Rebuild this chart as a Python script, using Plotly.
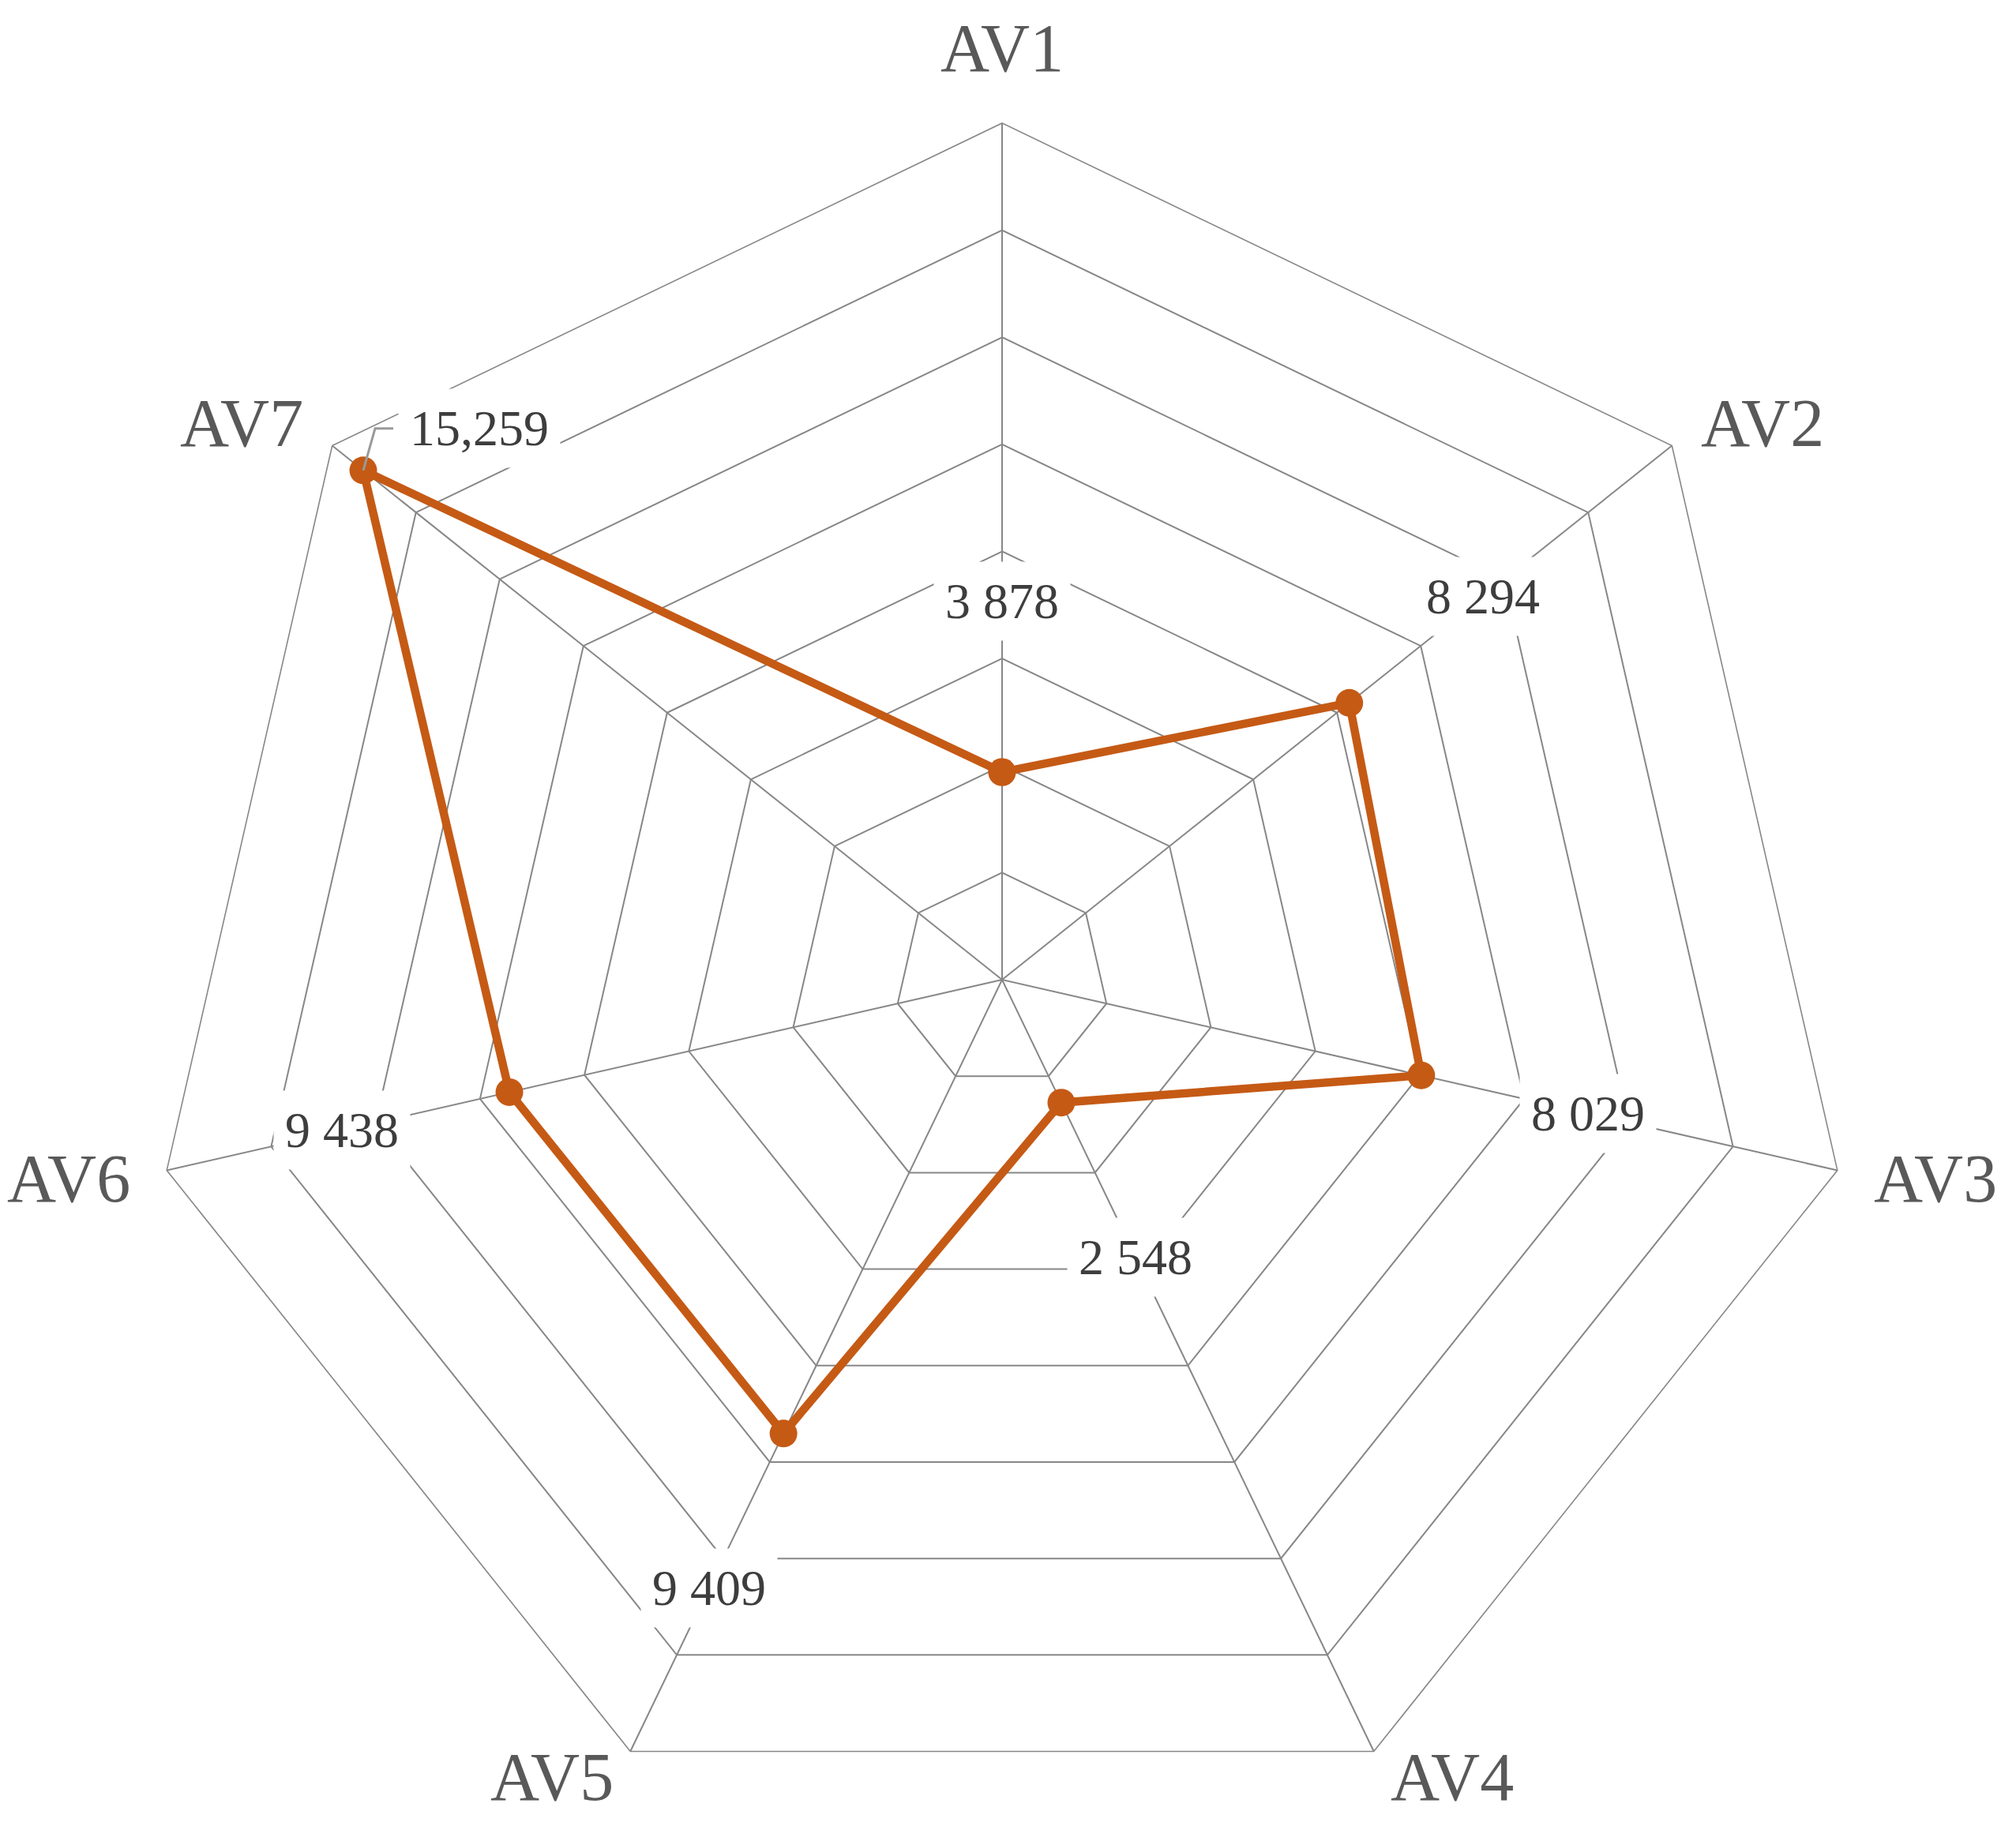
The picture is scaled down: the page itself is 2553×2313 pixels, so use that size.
import math
import plotly.graph_objects as go

# ---------------- data ----------------
categories = ["AV1", "AV2", "AV3", "AV4", "AV5", "AV6", "AV7"]
values = [3878, 8294, 8029, 2548, 9409, 9438, 15259]
value_labels = ["3 878", "8 294", "8 029", "2 548", "9 409", "9 438", "15,259"]
radial_max = 16000
radial_step = 2000

# ---------------- style / layout constants ----------------
FONT = "Liberation Serif"
LINE_COLOR = "#C55A15"
GRID_COLOR = "#878787"
FIG_W, FIG_H = 2553, 2326
M_L, M_R, M_T, M_B = 0, 15, 156, 0
LABEL_OFFSET_PX = 217
CAT_PAD_PX = 46
CAT_PAD_DOWN_PX = 36

plot_w = FIG_W - M_L - M_R
plot_h = FIG_H - M_T - M_B
R_px = min(plot_w, plot_h) / 2.0
upp = radial_max / R_px          # data units per pixel
x_half = plot_w / 2.0 * upp
y_half = plot_h / 2.0 * upp
n = len(categories)


def ang(i):
    return math.radians(90 - i * 360.0 / n)


def xy(r, i):
    a = ang(i)
    return r * math.cos(a), r * math.sin(a)


fig = go.Figure()

fig.add_trace(go.Scatterpolar(
    r=values + values[:1],
    theta=categories + categories[:1],
    mode="lines+markers",
    line=dict(color=LINE_COLOR, width=10.5),
    marker=dict(color=LINE_COLOR, size=35),
    hoverinfo="skip",
    showlegend=False,
))

annotations = []
shapes = []
anchor_x, anchor_y = [], []

# value labels
for i, (v, lab) in enumerate(zip(values, value_labels)):
    if v + LABEL_OFFSET_PX * upp <= radial_max:
        lx, ly = xy(v + LABEL_OFFSET_PX * upp, i)
        annotations.append(dict(
            x=lx, y=ly, xref="x", yref="y", text=lab, showarrow=False,
            xanchor="center", yanchor="middle",
            font=dict(family=FONT, size=64, color="#3d3d3d"),
            bgcolor="white", borderpad=14,
        ))
    else:
        px, py = xy(v, i)
        bx, by = px + 15 * upp, py + 53 * upp
        ex = px + 38 * upp
        shapes.append(dict(
            type="path", xref="x", yref="y", layer="above",
            path=f"M {px},{py} L {bx},{by} L {ex},{by}",
            line=dict(color="#9a9a9a", width=3),
        ))
        lx, ly = px + 44 * upp, by
        annotations.append(dict(
            x=lx, y=ly, xref="x", yref="y", text=lab, showarrow=False,
            xanchor="left", yanchor="middle",
            font=dict(family=FONT, size=64, color="#3d3d3d"),
            bgcolor="white", borderpad=14,
        ))
    anchor_x.append(lx)
    anchor_y.append(ly)

# category labels around the outer polygon
for i, cat in enumerate(categories):
    a = ang(i)
    c, s = math.cos(a), math.sin(a)
    vx, vy = xy(radial_max, i)
    if abs(c) < 0.1:
        xa, ya = "center", ("bottom" if s > 0 else "top")
    else:
        xa, ya = ("left" if c > 0 else "right"), "middle"
    pad_y = CAT_PAD_PX if s > -0.5 else CAT_PAD_DOWN_PX
    annotations.append(dict(
        x=vx, y=vy, xref="x", yref="y", text=cat, showarrow=False,
        xanchor=xa, yanchor=ya,
        xshift=CAT_PAD_PX * c, yshift=pad_y * s,
        font=dict(family=FONT, size=86, color="#595959"),
        borderpad=0,
    ))

# invisible trace to create the cartesian overlay used for label placement
fig.add_trace(go.Scatter(
    x=anchor_x, y=anchor_y, mode="markers",
    marker=dict(opacity=0), hoverinfo="skip", showlegend=False,
))

fig.update_layout(
    width=FIG_W, height=FIG_H,
    margin=dict(l=M_L, r=M_R, t=M_T, b=M_B),
    paper_bgcolor="white", plot_bgcolor="rgba(0,0,0,0)",
    hovermode=False,
    showlegend=False,
    polar=dict(
        domain=dict(x=[0, 1], y=[0, 1]),
        bgcolor="white",
        gridshape="linear",
        radialaxis=dict(
            range=[0, radial_max], dtick=radial_step, tick0=0,
            showticklabels=False, ticks="", showline=False,
            gridcolor=GRID_COLOR, gridwidth=1.6,
        ),
        angularaxis=dict(
            direction="clockwise", rotation=90,
            showline=True, linecolor=GRID_COLOR, linewidth=1.6,
            gridcolor=GRID_COLOR, gridwidth=1.6, ticks="",
            showticklabels=False,
        ),
    ),
    xaxis=dict(range=[-x_half, x_half], visible=False, fixedrange=True, domain=[0, 1]),
    yaxis=dict(range=[-y_half, y_half], visible=False, fixedrange=True, domain=[0, 1]),
    annotations=annotations,
    shapes=shapes,
)

fig.write_html(
    "out.html",
    config={"displayModeBar": False},
    post_script="document.body.style.margin='0';document.body.style.overflow='hidden';",
)
